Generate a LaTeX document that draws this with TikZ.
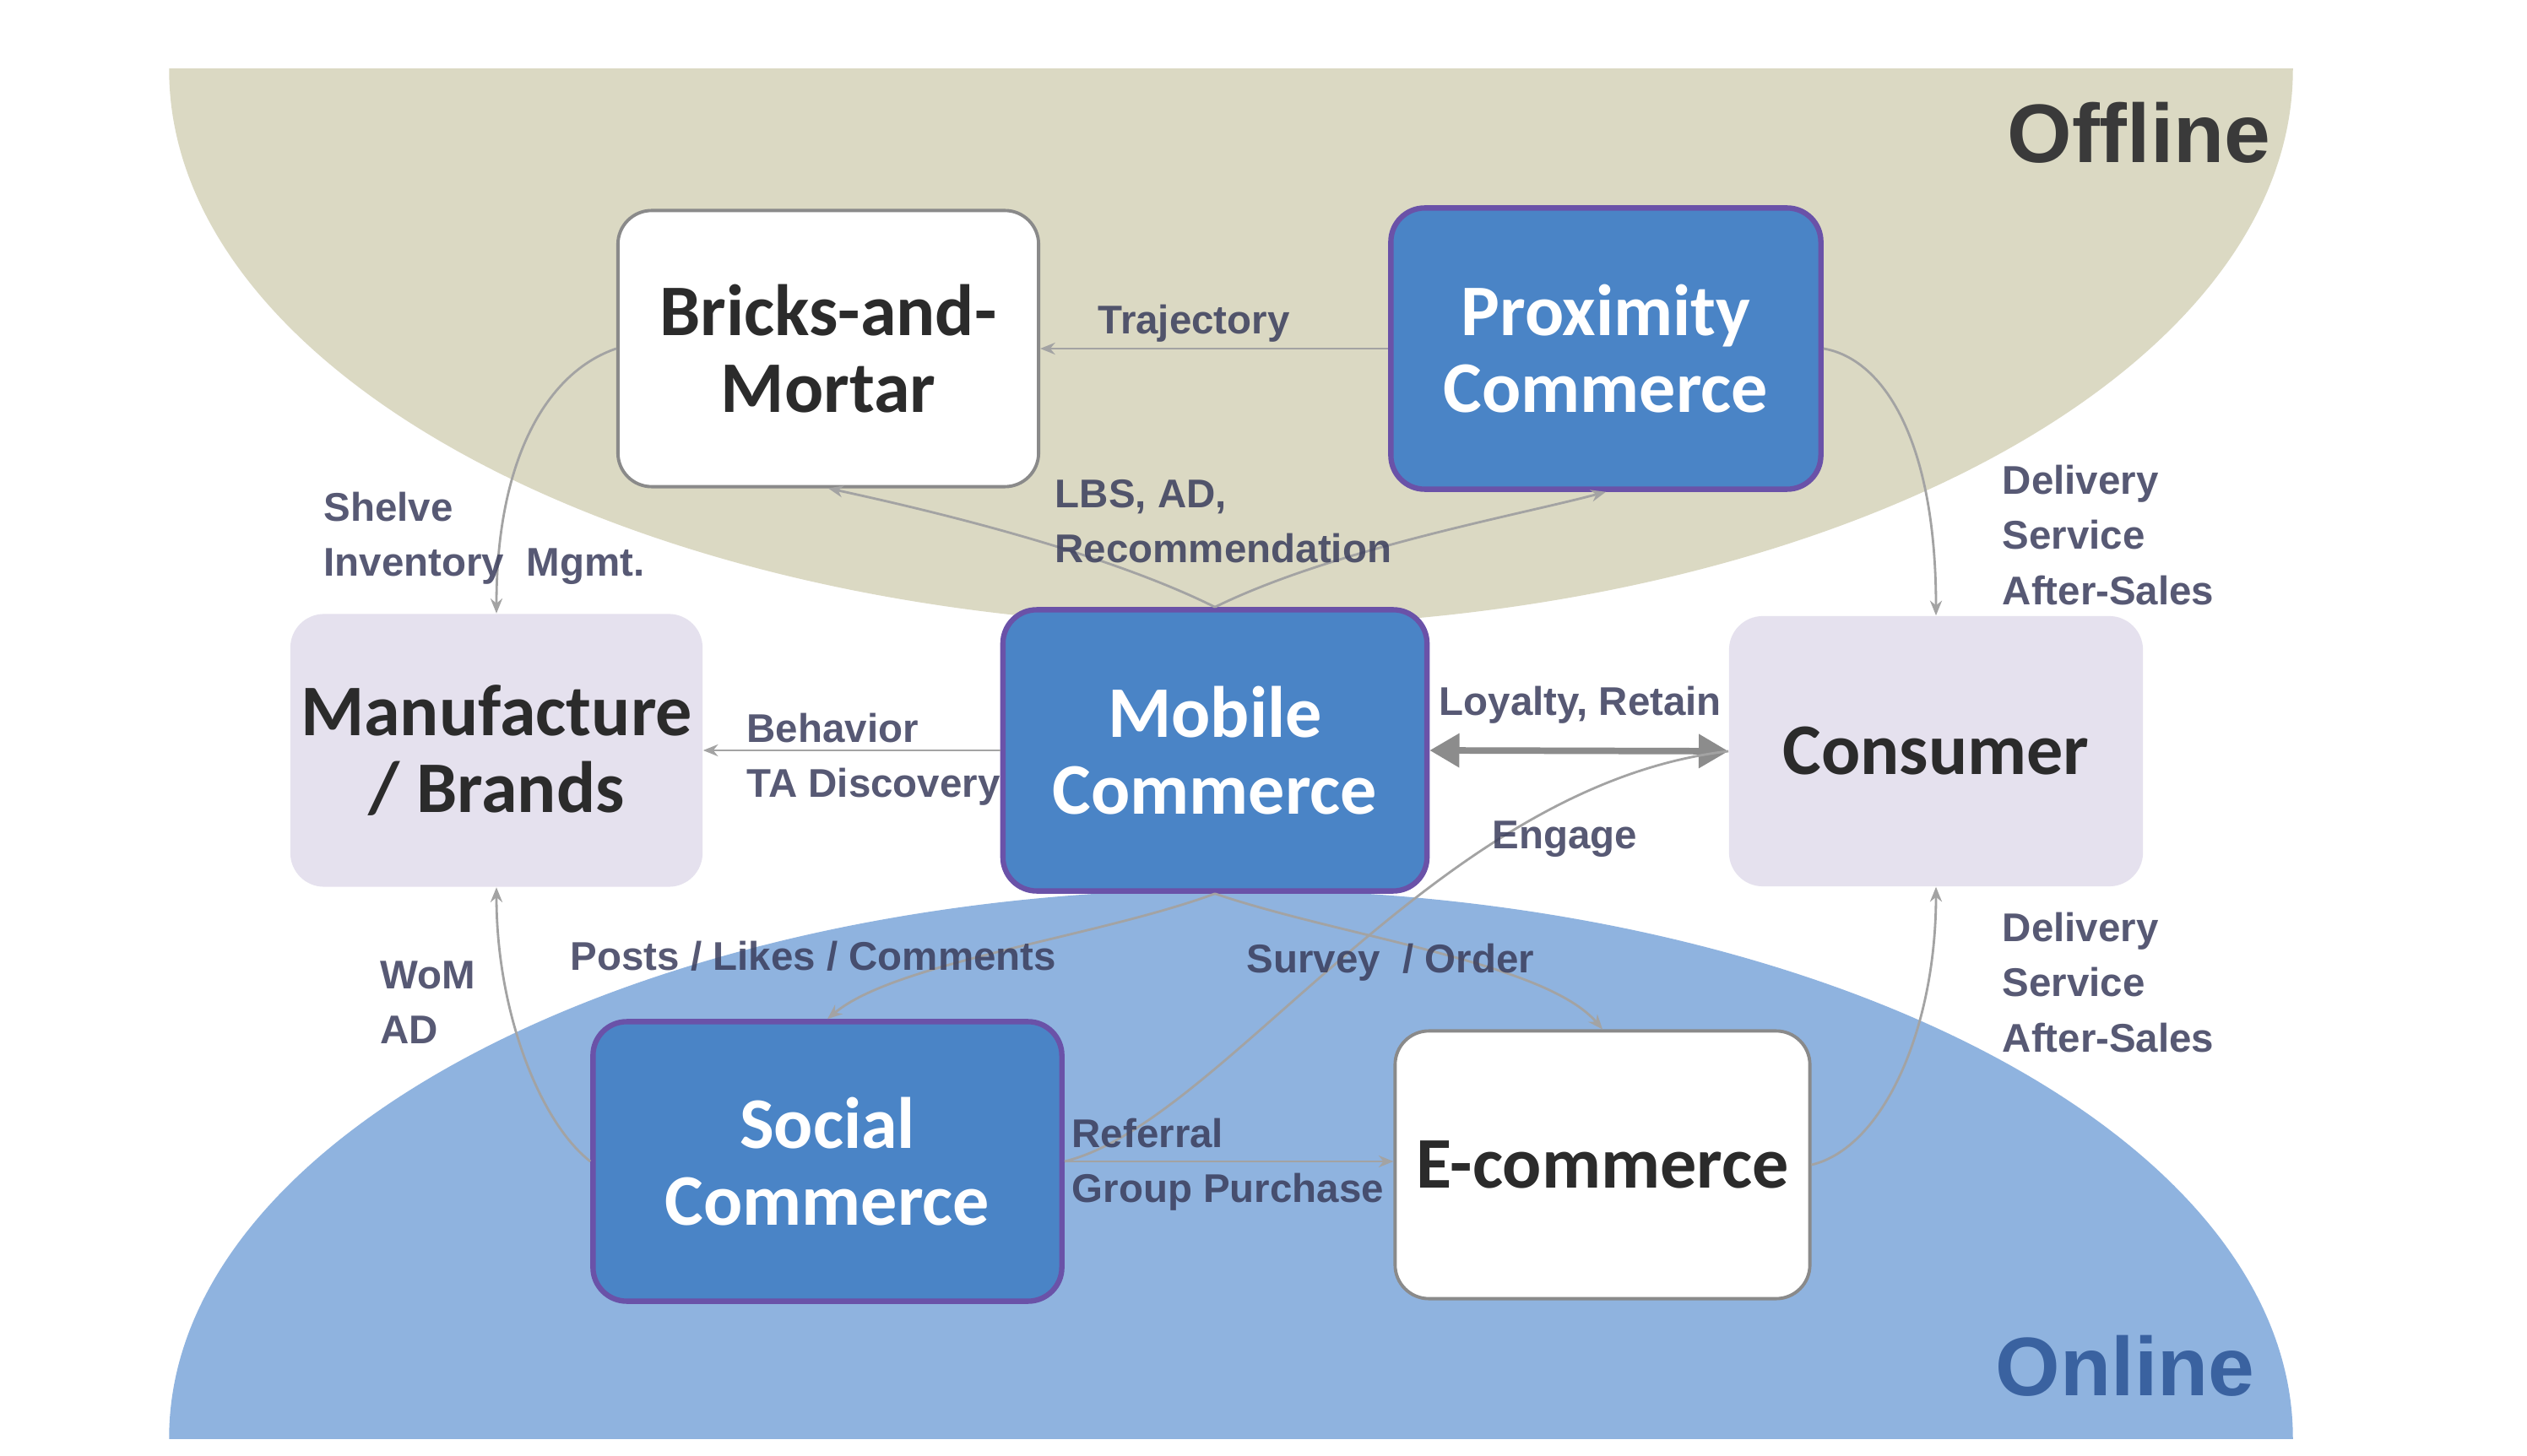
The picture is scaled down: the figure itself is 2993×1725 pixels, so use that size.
\documentclass[tikz,border=0pt]{standalone}
\usepackage{fontspec}
\setmainfont{Liberation Sans}
\newfontfamily\nodefont{Carlito}
\usetikzlibrary{arrows.meta}
\definecolor{offfill}{HTML}{DBD9C3}
\definecolor{onfill}{HTML}{8FB3DF}
\definecolor{bluebox}{HTML}{4A84C6}
\definecolor{blueedge}{HTML}{6A52A8}
\definecolor{lavbox}{HTML}{E5E1EE}
\definecolor{whiteedge}{HTML}{8A8A8A}
\definecolor{conncol}{HTML}{A3A3A3}
\definecolor{dblcol}{HTML}{8C8C8C}
\definecolor{labcol}{HTML}{3A3D5C}
\definecolor{darktext}{HTML}{2B2B2B}
\definecolor{offtext}{HTML}{3A3A3A}
\definecolor{ontext}{HTML}{3A62A0}
\tikzset{
  box/.style={rounded corners=0.4cm, align=center, inner sep=0pt,
    font=\nodefont\bfseries\fontsize{24.5}{26}\selectfont},
  bluenode/.style={box, fill=bluebox, draw=blueedge, line width=1.8pt, text=white},
  whitenode/.style={box, fill=white, draw=whiteedge, line width=1.1pt, text=darktext},
  lavnode/.style={box, fill=lavbox, draw=none, text=darktext},
  conn/.style={draw=conncol, line width=0.8pt, -{Stealth[length=5pt,width=4pt]}},
  plainconn/.style={draw=conncol, line width=0.8pt},
  dblarrow/.style={draw=dblcol, line width=2.2pt, {Triangle[length=10pt,width=11pt]}-{Triangle[length=10pt,width=11pt]}},
  lab/.style={inner sep=0pt, align=left, anchor=west, text=labcol, text opacity=0.85,
    font=\bfseries\fontsize{13.5}{18.5}\selectfont},
  region/.style={font=\bfseries\fontsize{28}{30}\selectfont, inner sep=0pt, anchor=east}
}
\begin{document}
\begin{tikzpicture}[x=0.01cm, y=-0.01cm]
\useasboundingbox (0,0) rectangle (2993,1725);
\fill[white] (0,0) rectangle (2993,1725);
% regions
\begin{scope}
  \clip (0,82) rectangle (2993,1725);
  \fill[offfill] (1458,82) ellipse [x radius=12.57cm, y radius=6.6cm];
\end{scope}
\begin{scope}
  \clip (0,0) rectangle (2993,1704);
  \fill[onfill] (1458,1704) ellipse [x radius=12.57cm, y radius=6.5cm];
\end{scope}
\node[region, text=offtext] (offline) at (2690,157) {Offline};
\node[region, text=ontext] (online) at (2671,1618) {Online};

% nodes
\node[whitenode, minimum width=4.98cm, minimum height=3.27cm] (bricks) at (981,413) {Bricks-and-\\Mortar};
\node[bluenode, minimum width=5.09cm, minimum height=3.33cm] (prox) at (1902,413) {Proximity\\Commerce};
\node[lavnode, minimum width=4.88cm, minimum height=3.23cm] (manu) at (588,889) {Manufacture\\/ Brands};
\node[bluenode, minimum width=5.02cm, minimum height=3.33cm] (mobile) at (1439,889) {Mobile\\Commerce};
\node[lavnode, minimum width=4.90cm, minimum height=3.20cm] (cons) at (2293,890) {Consumer};
\node[bluenode, minimum width=5.55cm, minimum height=3.31cm] (social) at (980,1376) {Social\\Commerce};
\node[whitenode, minimum width=4.91cm, minimum height=3.17cm] (ecom) at (1898,1380) {E-commerce};

% connectors
\draw[conn] (prox.west) -- (bricks.east);
\draw[conn] (bricks.west) .. controls (650,440) and (588,540) .. (manu.north);
\draw[conn] (mobile.north) .. controls (1300,650) and (1080,600) .. (bricks.south);
\draw[conn] (mobile.north) .. controls (1580,650) and (1800,610) .. (prox.south);
\draw[conn] (prox.east) .. controls (2230,425) and (2293,520) .. (cons.north);
\draw[conn] (mobile.west) -- (manu.east);
\draw[dblarrow] (mobile.east) -- (cons.west);
\draw[plainconn] (social.east) .. controls (1450,1330) and (1700,930) .. (cons.west);
\draw[conn] (social.west) .. controls (640,1330) and (588,1200) .. (manu.south);
\draw[conn] (mobile.south) .. controls (1300,1110) and (1060,1140) .. (social.north);
\draw[conn] (mobile.south) .. controls (1590,1110) and (1830,1140) .. (ecom.north);
\draw[conn] (social.east) -- (social.east -| ecom.west);
\draw[conn] (ecom.east) .. controls (2230,1360) and (2293,1220) .. (cons.south);

% labels
\node[lab] (ltraj) at (1300,383) {Trajectory};
\node[lab] (llbs) at (1249,618) {LBS, AD,\\Recommendation};
\node[lab] (lshelve) at (383,638) {Shelve\\Inventory\ \ Mgmt.};
\node[lab] (ldel1) at (2371,634) {Delivery\\Service\\After-Sales};
\node[lab] (lbeh) at (884,900) {Behavior\\TA Discovery};
\node[lab] (lloy) at (1704,835) {Loyalty, Retain};
\node[lab] (leng) at (1767,994) {Engage};
\node[lab] (lwom) at (450,1188) {WoM\\AD};
\node[lab] (lposts) at (675,1133) {Posts / Likes / Comments};
\node[lab] (lsurvey) at (1476,1140) {Survey\ \ / Order};
\node[lab] (lref) at (1269,1380) {Referral\\Group Purchase};
\node[lab] (ldel2) at (2371,1164) {Delivery\\Service\\After-Sales};
\end{tikzpicture}
\end{document}
